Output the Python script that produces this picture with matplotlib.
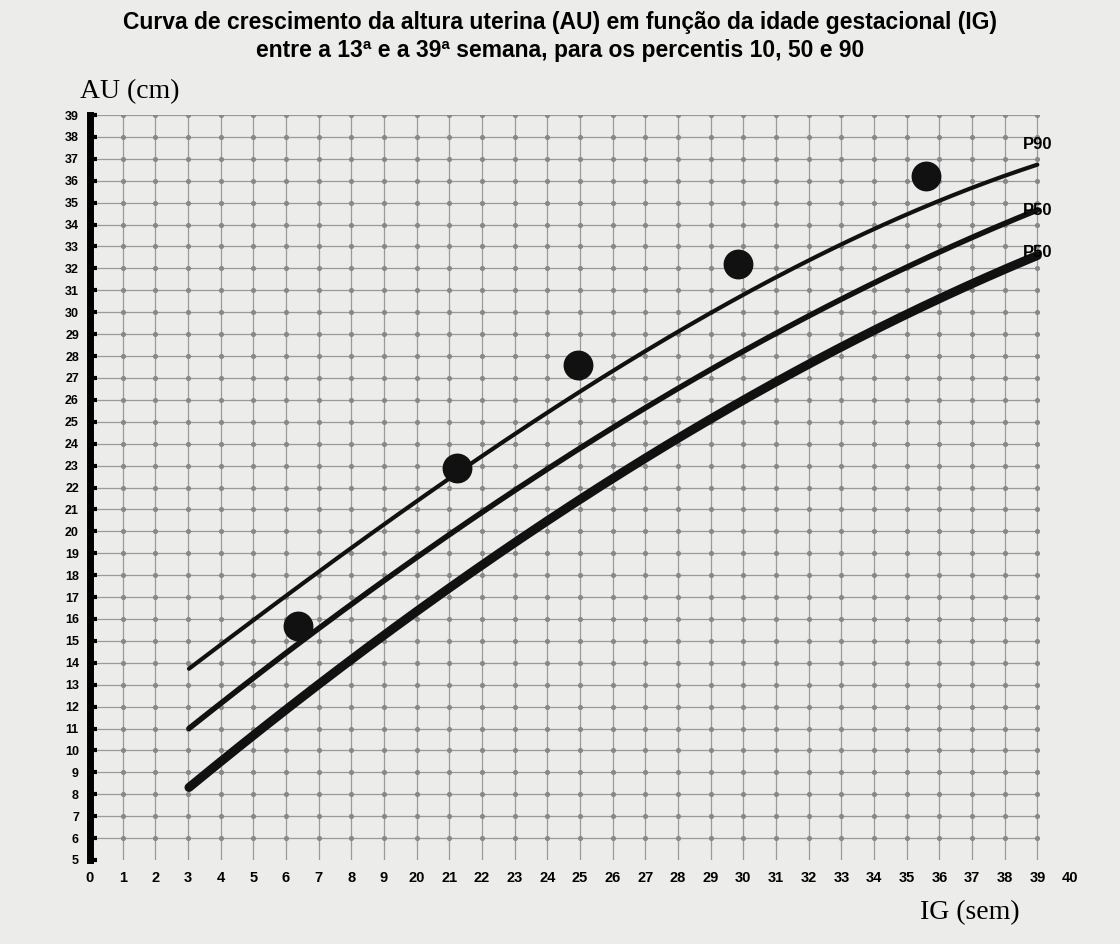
import matplotlib
matplotlib.use("Agg")
import matplotlib.pyplot as plt
import numpy as np

x_labels = ["0","1","2","3","4","5","6","7","8","9","20","21","22","23","24","25","26","27","28","29","30",
            "31","32","33","34","35","36","37","38","39","40"]
y_ticks = list(range(5, 40))

curve_x = [3.03, 6.03, 11.23, 14.94, 19.84, 25.56, 29.0]
p90 = [13.8, 16.9, 22.9, 26.2, 30.6, 34.9, 36.7]
p50 = [11.1, 14.3, 20.1, 23.9, 28.0, 32.4, 34.7]
p10 = [8.4, 11.7, 17.8, 21.4, 25.8, 30.3, 32.6]

dots_x = [6.37, 11.23, 14.94, 19.84, 25.6]
dots_y = [15.7, 22.9, 27.6, 32.2, 36.2]

bg = "#ececea"
fig = plt.figure(figsize=(11.2, 9.44), dpi=100, facecolor=bg)
ax = fig.add_axes([90/1120, 84/944, 980/1120, 745/944])
ax.set_facecolor(bg)
ax.set_xlim(0, 30)
ax.set_ylim(5, 39)

for i in range(1, 30):
    ax.plot([i, i], [5, 39], color="#9a9a9a", lw=0.9, zorder=1)
for j in y_ticks[1:]:
    ax.plot([0, 29], [j, j], color="#9a9a9a", lw=0.9, zorder=1)
gx, gy = np.meshgrid(np.arange(1, 30), np.arange(6, 40))
ax.scatter(gx.ravel(), gy.ravel(), s=7, color="#888888", zorder=1)

def smooth(xs, ys):
    xs = np.array(xs); ys = np.array(ys)
    c = np.polyfit(xs, ys, 3)
    xx = np.linspace(xs[0], xs[-1], 200)
    return xx, np.polyval(c, xx)

for ys, lw in [(p90, 3), (p50, 4), (p10, 6.5)]:
    xx, yy = smooth(curve_x, ys)
    ax.plot(xx, yy, color="#111111", lw=lw, solid_capstyle="round", zorder=3)

ax.scatter(dots_x, dots_y, s=420, color="#111111", zorder=4)

for lab, y in [("P90", 37.3), ("P50", 34.3), ("P50", 32.4)]:
    ax.text(29.0, y, lab, fontsize=12, fontweight="bold", ha="center", va="bottom",
            family="Liberation Sans", zorder=5)

for s in ["top", "right", "bottom"]:
    ax.spines[s].set_visible(False)
ax.spines["left"].set_linewidth(5)
ax.set_xticks(range(31))
ax.set_xticklabels(x_labels, fontsize=10.5, fontweight="bold", family="Liberation Sans")
ax.set_yticks(y_ticks)
ax.set_yticklabels([str(v) for v in y_ticks], fontsize=9, fontweight="bold", family="Liberation Sans")
ax.tick_params(axis="x", length=0, pad=8)
ax.tick_params(axis="y", length=5, width=3, direction="in", pad=8)

fig.text(0.5, 0.988, "Curva de crescimento da altura uterina (AU) em função da idade gestacional (IG)\n"
         "entre a 13ª e a 39ª semana, para os percentis 10, 50 e 90",
         ha="center", va="top", fontsize=16.5, fontweight="bold", family="Liberation Sans", linespacing=1.25)
fig.text(80/1120, 1 - 92/944, "AU (cm)", fontsize=20, family="Liberation Serif", ha="left", va="center")
fig.text(1020/1120, 1 - 913/944, "IG (sem)", fontsize=20, family="Liberation Serif", ha="right", va="center")

fig.savefig("out.png", dpi=100, facecolor=bg)
